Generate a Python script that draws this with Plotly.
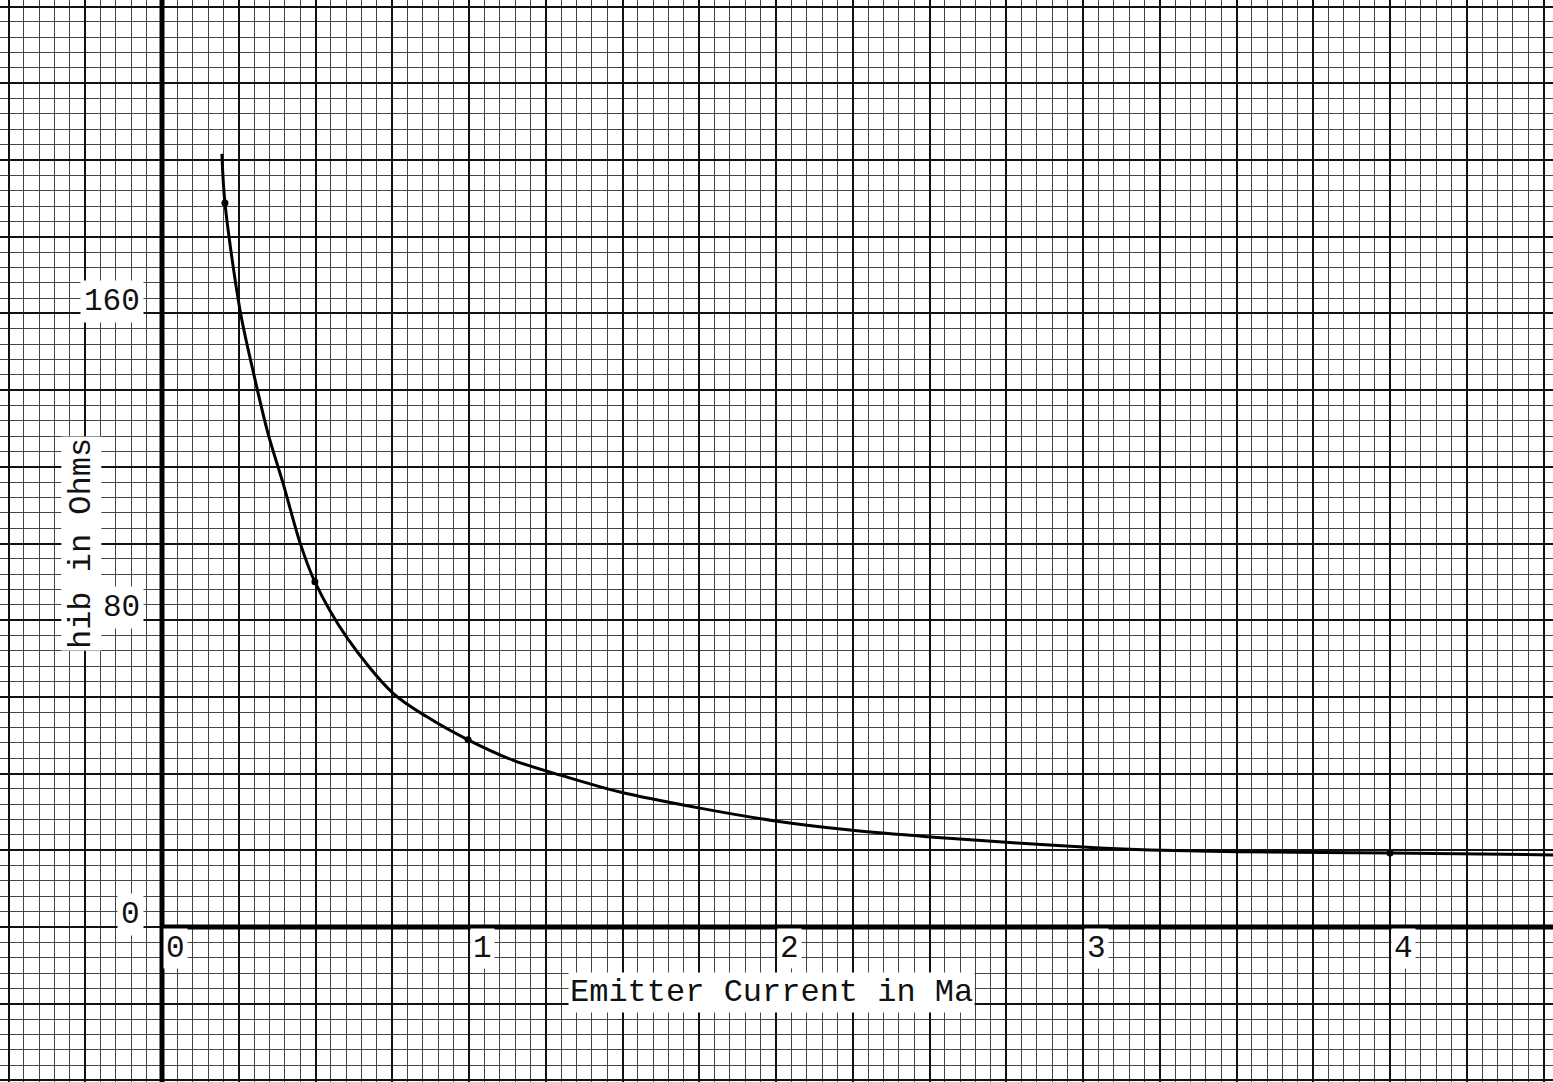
import plotly.graph_objects as go

# Curve (Emitter current in mA, h_ib in ohms)
curve_x = [0.195, 0.205, 0.254, 0.296, 0.345, 0.394, 0.450, 0.498, 0.603, 0.752, 0.863,
           0.997, 1.143, 1.306, 1.492, 1.752, 2.003, 2.241, 2.502, 2.785, 3.055, 3.218,
           3.502, 4.000, 4.531]
curve_y = [201.6, 188.8, 160.9, 145.2, 128.8, 115.8, 100.1, 90.0, 75.4, 61.0, 54.8,
           48.8, 43.5, 39.4, 35.2, 31.0, 27.6, 25.3, 23.5, 21.9, 20.6, 20.1,
           19.6, 19.3, 18.8]

# Plotted data points (dots on the curve)
point_x = [0.205, 0.498, 0.997, 4.000]
point_y = [188.8, 90.0, 48.8, 19.3]

x_tick_vals = [0, 1, 2, 3, 4]
x_tick_labels = ["0", "1", "2", "3", "4"]
y_tick_vals = [0, 80, 160]
y_tick_labels = ["0", "80", "160"]

x_title = "Emitter Current in Ma"
y_title = "hib in Ohms"

XR = [-162 / 307, 1391 / 307]
YR = [-155 / 3.835, 927 / 3.835]
FONT = "Liberation Mono, DejaVu Sans Mono, monospace"

fig = go.Figure()
# invisible trace to keep the heavy-grid overlay axes alive
fig.add_trace(go.Scatter(x=[XR[0]], y=[YR[0]], xaxis="x2", yaxis="y2", mode="markers",
                         marker=dict(opacity=0), hoverinfo="skip"))
fig.add_trace(go.Scatter(x=curve_x, y=curve_y, mode="lines",
                         line=dict(color="black", width=3, shape="spline", smoothing=0.9),
                         hoverinfo="skip"))
fig.add_trace(go.Scatter(x=point_x, y=point_y, mode="markers",
                         marker=dict(color="black", size=7), hoverinfo="skip"))

annotations = []
for v, t in zip(x_tick_vals, x_tick_labels):
    annotations.append(dict(x=v + 0.045, y=-5.7, text=t, showarrow=False,
                            xanchor="center", yanchor="middle",
                            font=dict(family=FONT, size=31, color="#111"),
                            bgcolor="white", borderpad=2))
for v, t in zip(y_tick_vals, y_tick_labels):
    annotations.append(dict(x=-0.0586, y=v + 3.2, text=t, showarrow=False,
                            xanchor="right", yanchor="middle",
                            font=dict(family=FONT, size=31, color="#111"),
                            bgcolor="white", borderpad=3))
annotations.append(dict(x=1.984, y=-17.2, text=x_title, showarrow=False,
                        xanchor="center", yanchor="middle",
                        font=dict(family=FONT, size=32, color="#111"),
                        bgcolor="white", borderpad=1))
annotations.append(dict(x=-0.264, y=100.1, text=y_title, showarrow=False, textangle=-90,
                        xanchor="center", yanchor="middle",
                        font=dict(family=FONT, size=32, color="#111"),
                        bgcolor="white", borderpad=1))

shapes = [
    dict(type="line", xref="x", yref="paper", x0=0, x1=0, y0=0, y1=1,
         line=dict(color="black", width=5), layer="above"),
    dict(type="line", xref="paper", yref="y", x0=-XR[0] / (XR[1] - XR[0]), x1=1, y0=0, y1=0,
         line=dict(color="black", width=5), layer="above"),
]

thin = dict(showgrid=True, gridcolor="#444", gridwidth=1.1, zeroline=False,
            showticklabels=False, ticks="", fixedrange=True, showline=False)
heavy = dict(showgrid=True, gridcolor="#111", gridwidth=2.2, zeroline=False,
             showticklabels=False, ticks="", fixedrange=True, showline=False)

fig.update_layout(
    width=1553, height=1082,
    margin=dict(l=0, r=0, t=0, b=0),
    paper_bgcolor="white", plot_bgcolor="white",
    showlegend=False,
    annotations=annotations,
    shapes=shapes,
    xaxis=dict(range=XR, tick0=0, dtick=0.05, **thin),
    yaxis=dict(range=YR, tick0=0, dtick=4, **thin),
    xaxis2=dict(range=XR, tick0=0, dtick=0.25, overlaying="x", anchor="y2", **heavy),
    yaxis2=dict(range=YR, tick0=0, dtick=20, overlaying="y", anchor="x2", **heavy),
)

fig.write_html("out.html", config={"displayModeBar": False},
               post_script="document.body.style.margin='0';document.body.style.overflow='hidden';")
